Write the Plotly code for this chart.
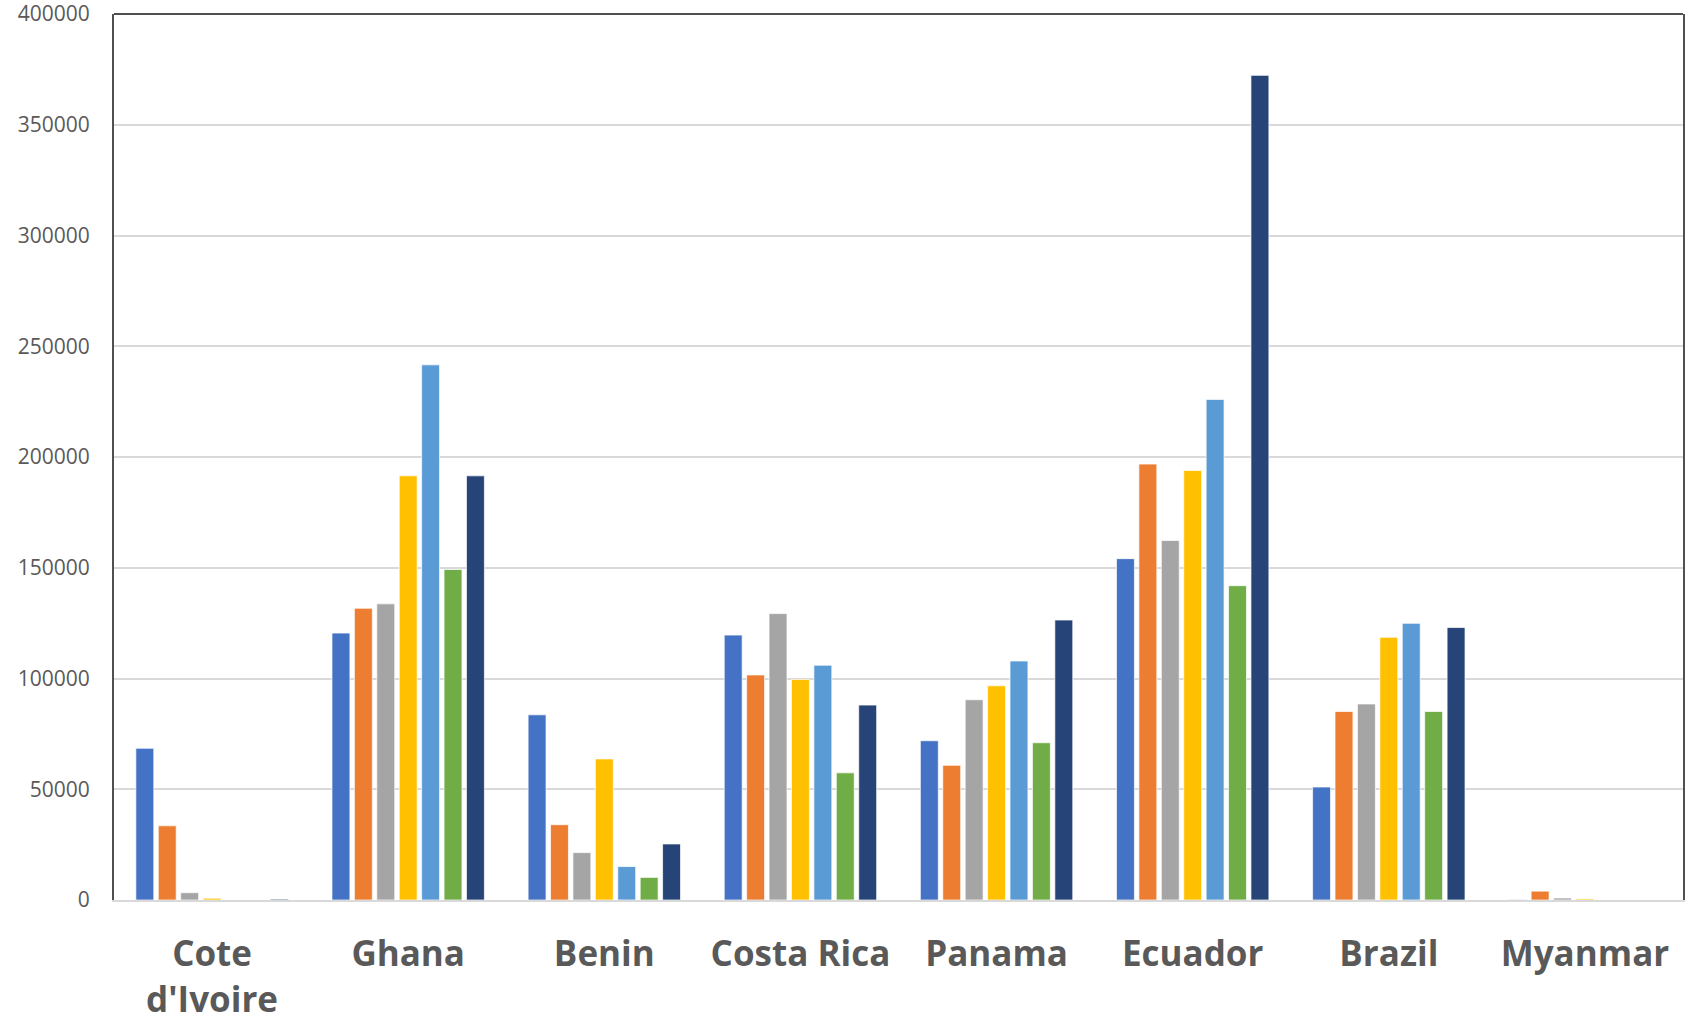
import plotly.graph_objects as go

countries = ["Cote<br>d'Ivoire", "Ghana", "Benin", "Costa Rica", "Panama", "Ecuador", "Brazil", "Myanmar"]

series1 = [68500, 120500, 83600, 119600, 71900, 154100, 51000, 200]
series2 = [33500, 131700, 34000, 101600, 60800, 196800, 85100, 4000]
series3 = [3300, 133700, 21400, 129300, 90400, 162300, 88500, 900]
series4 = [800, 191500, 63700, 99600, 96700, 193900, 118600, 500]
series5 = [0, 241600, 15100, 106000, 107900, 226000, 124900, 0]
series6 = [0, 149200, 10200, 57400, 71000, 141900, 85100, 0]
series7 = [400, 191500, 25300, 88000, 126400, 372300, 123000, 0]

series_names = ["Series 1", "Series 2", "Series 3", "Series 4", "Series 5", "Series 6", "Series 7"]
series_values = [series1, series2, series3, series4, series5, series6, series7]
colors = ["#4472C4", "#ED7D31", "#A5A5A5", "#FFC000", "#5B9BD5", "#70AD47", "#264478"]

fig = go.Figure()
for name, vals, col in zip(series_names, series_values, colors):
    fig.add_trace(go.Bar(
        x=countries, y=vals, name=name,
        marker=dict(color=col, line=dict(color="rgba(255,255,255,0.7)", width=1)),
    ))

fig.update_layout(
    width=1687, height=1028,
    margin=dict(l=114, r=4, t=14, b=128),
    paper_bgcolor="white", plot_bgcolor="white",
    barmode="group", bargap=0.2, bargroupgap=0.2,
    showlegend=False,
    font=dict(family="Open Sans", color="#595959"),
    xaxis=dict(
        showline=True, linecolor="#D9D9D9", linewidth=2,
        showgrid=False, ticks="", automargin=False,
        tickfont=dict(family="Open Sans", size=35, color="#595959", weight="bold"),
        ticklabelstandoff=22,
    ),
    yaxis=dict(
        range=[0, 400000], dtick=50000, tickformat="d",
        showgrid=True, gridcolor="#D9D9D9", gridwidth=1.5,
        showline=True, mirror=True, linecolor="#505050", linewidth=2,
        zeroline=False, ticks="", automargin=False,
        tickfont=dict(family="Open Sans", size=21, color="#595959"),
        ticklabelstandoff=18, ticklabeloverflow="allow",
    ),
    shapes=[dict(type="line", xref="paper", yref="paper", x0=0, x1=1, y0=1, y1=1,
                 line=dict(color="#505050", width=2))],
)

fig.write_html("out.html")
